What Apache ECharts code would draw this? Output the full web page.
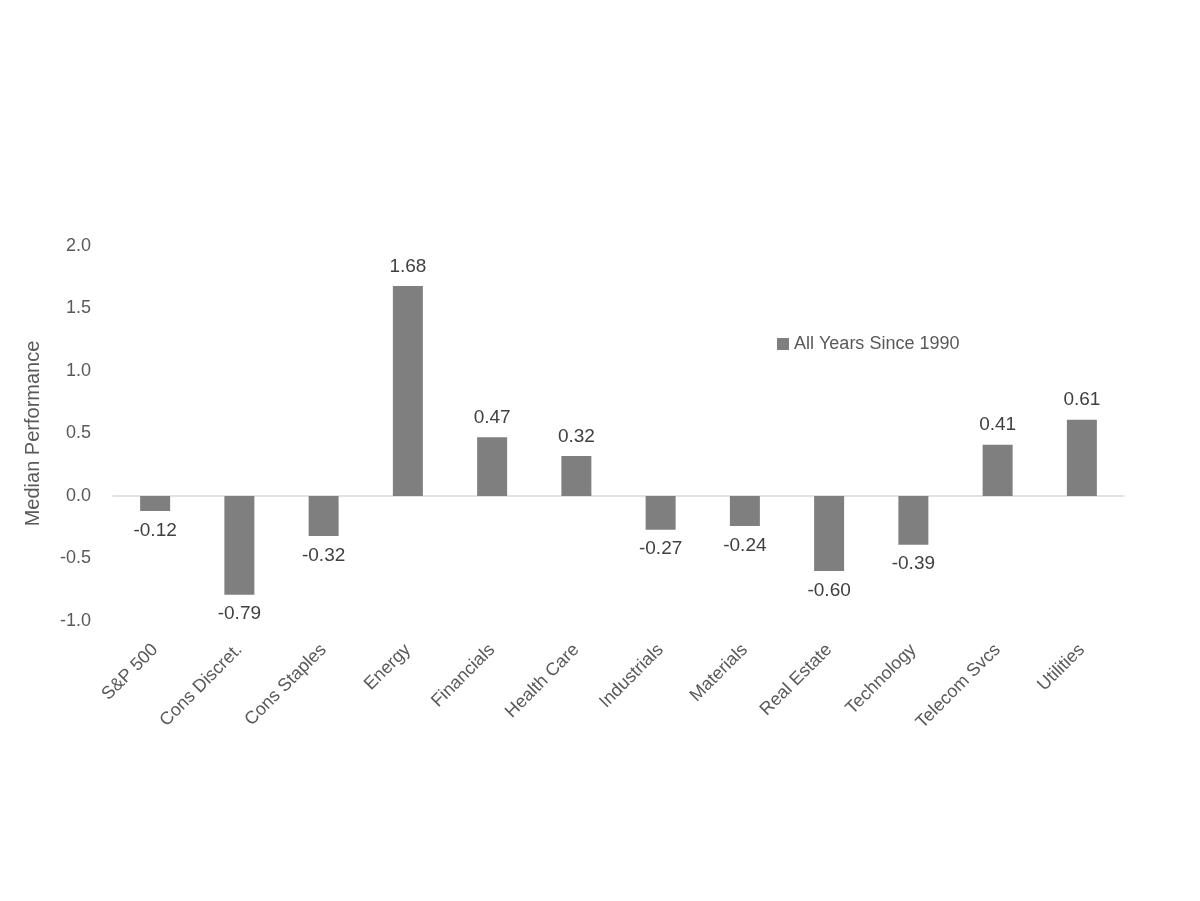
<!DOCTYPE html>
<html><head><meta charset="utf-8">
<script src="https://cdn.jsdelivr.net/npm/echarts@6/dist/echarts.min.js"></script>
<style>html,body{margin:0;padding:0;background:#fff}#c{width:1200px;height:901px}</style>
</head><body><div id="c"></div>
<script>
const categories = ["S&P 500","Cons Discret.","Cons Staples","Energy","Financials","Health Care","Industrials","Materials","Real Estate","Technology","Telecom Svcs","Utilities"];
const values = [-0.12,-0.79,-0.32,1.68,0.47,0.32,-0.27,-0.24,-0.60,-0.39,0.41,0.61];
const seriesName = "All Years Since 1990";
const chart = echarts.init(document.getElementById('c'));
const txt = '#595959', font = 'Liberation Sans, Arial, sans-serif';
chart.setOption({
  animation:false,
  textStyle:{fontFamily:font},
  legend:{data:[seriesName],left:772,top:330,itemWidth:12,itemHeight:12,icon:'rect',textStyle:{color:txt,fontSize:18,fontFamily:font}},
  grid:{left:113,right:76,top:246,bottom:280},
  xAxis:{type:'category',data:categories,axisLine:{onZero:true,lineStyle:{color:'#d9d9d9',width:1.5}},axisTick:{show:false},
    axisLabel:{interval:0,rotate:45,color:txt,fontSize:18,margin:26,fontFamily:font}},
  yAxis:{type:'value',min:-1,max:2,interval:0.5,splitLine:{show:false},axisLine:{show:false},axisTick:{show:false},
    name:'Median Performance',nameLocation:'middle',nameGap:70,nameTextStyle:{color:txt,fontSize:20,fontFamily:font},
    axisLabel:{color:txt,fontSize:18,margin:22,formatter:v=>v.toFixed(1),fontFamily:font}},
  series:[{name:seriesName,type:'bar',barWidth:30,itemStyle:{color:'#7f7f7f'},
    data:values.map(v=>({value:v,label:{show:true,position:v>=0?'top':'bottom',distance:10,color:'#404040',fontSize:19,formatter:v.toFixed(2),fontFamily:font}}))}]
});
</script></body></html>
